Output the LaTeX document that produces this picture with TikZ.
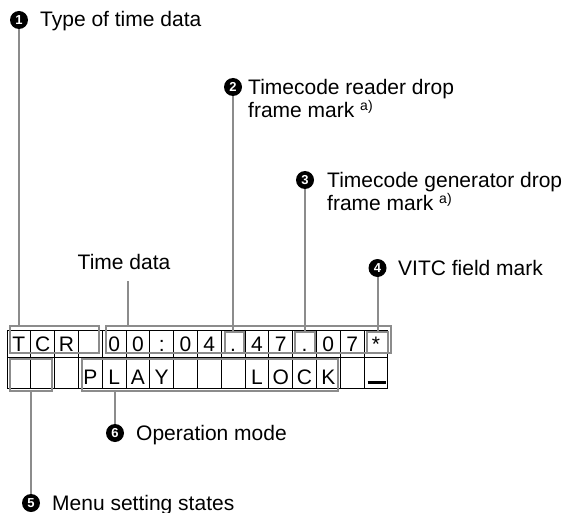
\documentclass[tikz,border=0pt]{standalone}
\usepackage{fontspec}
\setmainfont{Liberation Sans}
\newcommand{\supa}[1]{{\fontsize{14}{14}\selectfont\raisebox{7pt}{#1}}}
\begin{document}
\begin{tikzpicture}[x=1pt,y=-1pt,
  lbl/.style={font=\fontsize{21}{23}\selectfont, inner sep=0pt, align=left},
  num/.style={circle, fill=black, text=white, minimum size=18pt, inner sep=0pt,
              font=\fontsize{13}{13}\selectfont\bfseries},
  cellA/.style={draw=black, line width=0.9pt, minimum width=23.8pt, minimum height=27pt,
              inner sep=0pt, text height=16pt, text depth=0pt, font=\fontsize{21}{21}\selectfont},
  cellB/.style={draw=black, line width=0.9pt, minimum width=23.8pt, minimum height=31pt,
              inner sep=0pt, text height=24pt, text depth=0pt, font=\fontsize{21}{21}\selectfont},
  frm/.style={draw=black!45, line width=2pt, rectangle, inner sep=0pt},
  lead/.style={draw=black!45, line width=2pt}]
\useasboundingbox (0,0) rectangle (567,513);

% grid row 1
\foreach \t [count=\i] in {T,C,R,{},0,0,:,0,4,.,4,7,.,0,7,*}
  \node[cellA] (a\i) at ({7+23.8*(\i-0.5)},343.5) {\t};
% grid row 2
\foreach \t [count=\i] in {{},{},{},P,L,A,Y,{},{},{},L,O,C,K,{},{}}
  \node[cellB] (b\i) at ({7+23.8*(\i-0.5)},372.5) {\t};
\draw[line width=2.5pt] ([xshift=4pt,yshift=6pt]b16.south west) -- ([xshift=-2pt,yshift=6pt]b16.south east);

% gray frames
\node[frm, minimum width=89pt, minimum height=27pt] (fTCR) at (54.5,339.5) {};
\node[frm, minimum width=285pt, minimum height=27pt] (fTime) at (248.5,339.5) {};
\node[frm, minimum width=19pt, minimum height=21pt] (fDot1) at (234.5,342.5) {};
\node[frm, minimum width=20pt, minimum height=21pt] (fDot2) at (305,342.5) {};
\node[frm, minimum width=21pt, minimum height=21pt] (fStar) at (377.5,342.5) {};
\node[frm, minimum width=42pt, minimum height=32pt] (fMenu) at (31,375) {};
\node[frm, minimum width=256pt, minimum height=32pt] (fOp) at (210,375) {};

% bullets
\node[num] (n1) at (19,20) {1};
\node[num] (n2) at (233,87) {2};
\node[num] (n3) at (305,180) {3};
\node[num] (n4) at (377.5,268) {4};
\node[num] (n5) at (31,503) {5};
\node[num] (n6) at (115,433) {6};

% labels
\node[lbl, anchor=base west] (t1) at (40,27) {Type of time data};
\node[lbl, anchor=north west] (t2) at (248,78.8) {Timecode reader drop\\frame mark \supa{a)}};
\node[lbl, anchor=north west] (t3) at (327,171.8) {Timecode generator drop\\frame mark \supa{a)}};
\node[lbl, anchor=base west] (t4) at (398,275) {VITC field mark};
\node[lbl, anchor=base west] (t6) at (136,440) {Operation mode};
\node[lbl, anchor=base west] (t5) at (52,510) {Menu setting states};
\node[lbl] (tTime) at (124,262.4) {Time data};
\coordinate (cTime) at (128,281);

% leaders
\draw[lead] (n1) -- (n1 |- fTCR.north);
\draw[lead] (cTime) -- (cTime |- fTime.north);
\draw[lead] (n2) -- (n2 |- fDot1.north);
\draw[lead] (n3) -- (n3 |- fDot2.north);
\draw[lead] (n4) -- (n4 |- fStar.north);
\draw[lead] (n6) -- (n6 |- fOp.south);
\draw[lead] (n5) -- (n5 |- fMenu.south);
\end{tikzpicture}
\end{document}
